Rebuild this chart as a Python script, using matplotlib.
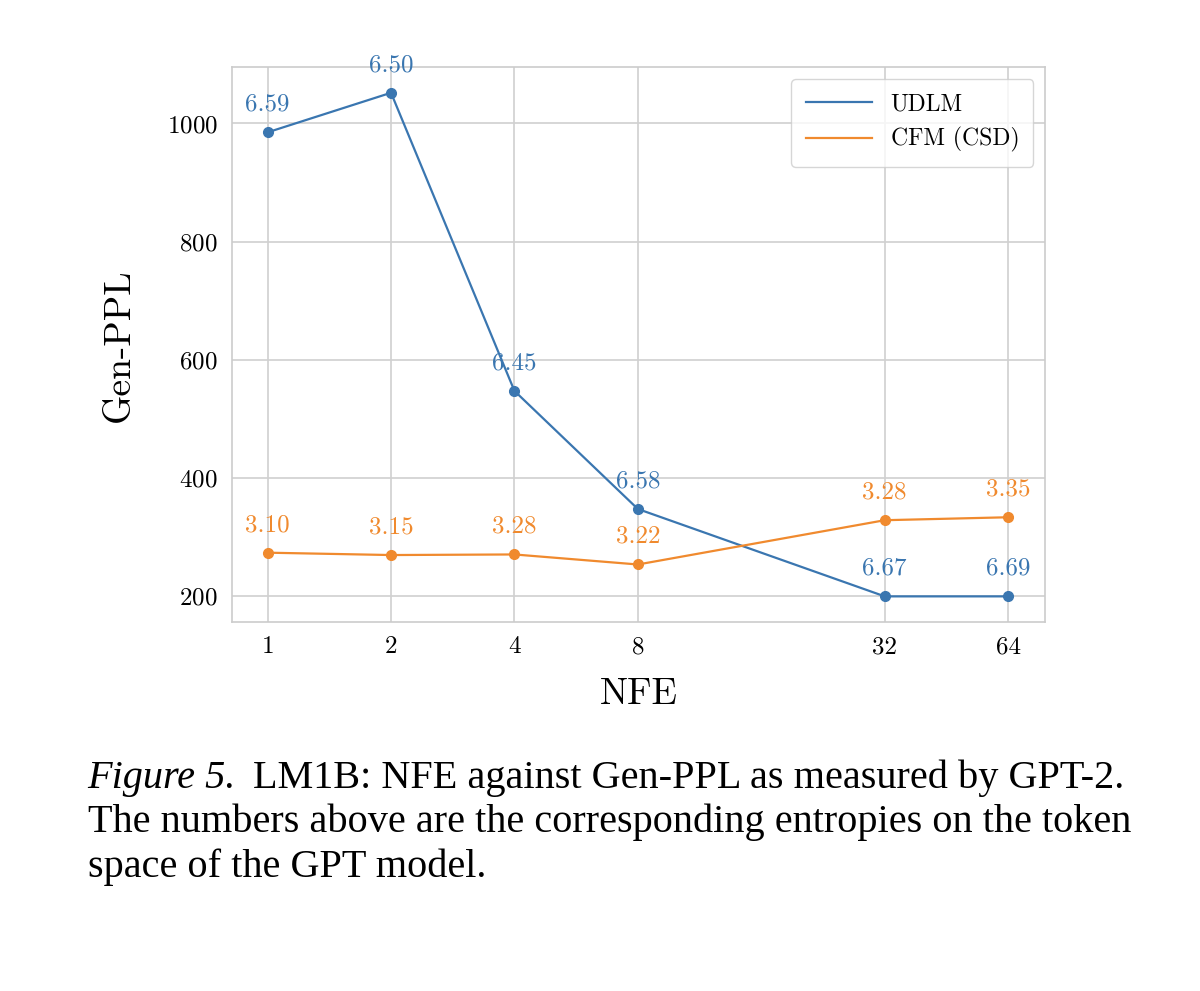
import matplotlib
matplotlib.use("Agg")
import matplotlib.pyplot as plt
from matplotlib.lines import Line2D

nfe = [1, 2, 4, 8, 32, 64]
udlm = [985, 1052, 547, 347, 199, 199]
cfm = [273, 269, 270, 253, 328, 333]
udlm_ent = ["6.59", "6.50", "6.45", "6.58", "6.67", "6.69"]
cfm_ent = ["3.10", "3.15", "3.28", "3.22", "3.28", "3.35"]

plt.rcParams['font.family'] = ['cmr10', 'DejaVu Serif']
plt.rcParams['axes.formatter.use_mathtext'] = True

fig = plt.figure(figsize=(12, 9.91), dpi=100)
ax = fig.add_axes([0.193, 0.372, 0.678, 0.560])
blue, orange = '#3a76b0', '#f08a2e'
ax.plot(nfe, udlm, '-o', color=blue, lw=1.6, ms=7)
ax.plot(nfe, cfm, '-o', color=orange, lw=1.6, ms=7)
for x, y, t in zip(nfe, udlm, udlm_ent):
    ax.annotate(t, (x, y), xytext=(0, 12), textcoords='offset points', ha='center', va='bottom', color=blue, fontsize=18)
for x, y, t in zip(nfe, cfm, cfm_ent):
    ax.annotate(t, (x, y), xytext=(0, 12), textcoords='offset points', ha='center', va='bottom', color=orange, fontsize=18)
ax.set_xscale('log', base=2)
ax.set_xticks(nfe)
ax.set_xticklabels([str(n) for n in nfe])
ax.minorticks_off()
ax.set_xlim(0.817, 78.8)
ax.set_ylim(155, 1095)
ax.set_yticks([200, 400, 600, 800, 1000])
ax.grid(True, color='#d0d0d0', lw=1.2)
for s in ax.spines.values():
    s.set_color('#cccccc'); s.set_linewidth(1.2)
ax.tick_params(length=0, labelsize=18, pad=10)
ax.set_xlabel('NFE', fontsize=27, labelpad=14)
ax.set_ylabel('Gen-PPL', fontsize=27, labelpad=22)
handles = [Line2D([], [], color=blue, lw=1.6), Line2D([], [], color=orange, lw=1.6)]
ax.legend(handles, ['UDLM', 'CFM (CSD)'], loc='upper right', fontsize=17, frameon=True,
          edgecolor='#cccccc', fancybox=True, borderpad=0.6, handlelength=2.8)
ax.set_axisbelow(True)

fs = 29
fig.text(0.073, 0.205, "Figure 5.", fontsize=fs, style='italic', family='Liberation Serif')
fig.text(0.211, 0.205, "LM1B: NFE against Gen-PPL as measured by GPT-2.", fontsize=fs, family='Liberation Serif')
fig.text(0.073, 0.160, "The numbers above are the corresponding entropies on the token", fontsize=fs, family='Liberation Serif')
fig.text(0.073, 0.115, "space of the GPT model.", fontsize=fs, family='Liberation Serif')
fig.savefig('out.png', dpi=100)
